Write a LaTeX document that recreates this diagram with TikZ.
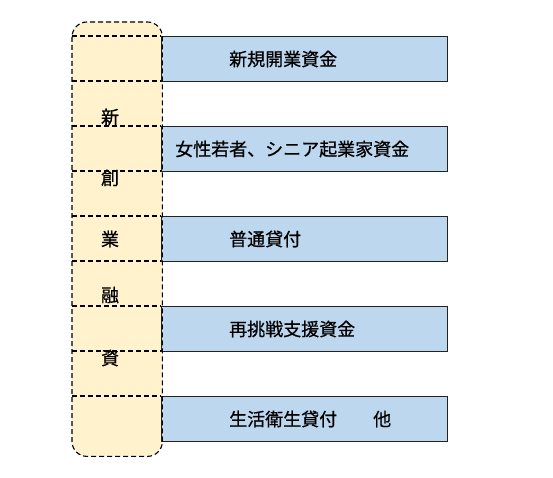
\documentclass[tikz,border=0pt]{standalone}
\usepackage{fontspec}
\setmainfont{Noto Sans CJK JP}[FakeBold=0.6]
\definecolor{boxblue}{HTML}{BDD7EE}
\definecolor{coly}{HTML}{FFF2CC}
\definecolor{edge}{HTML}{222222}
\begin{document}
\begin{tikzpicture}[x=1pt,y=-1pt,
  fundbox/.style={draw=edge,line width=0.9pt,fill=boxblue,minimum width=286pt,minimum height=45pt,inner sep=0pt,anchor=north west},
  fundtext/.style={font=\fontsize{18}{20}\selectfont,anchor=west,inner sep=0pt},
  colchar/.style={font=\fontsize{18}{20}\selectfont,inner sep=0pt},
  dashline/.style={draw=black,line width=1.1pt,dash pattern=on 5pt off 3pt}]
\useasboundingbox (0,0) rectangle (553,478);
% column
\node[draw=none,fill=coly,rounded corners=15pt,minimum width=90pt,minimum height=434pt,anchor=north west,inner sep=0pt] (col) at (72,22) {};
% boxes
\node[fundbox] (b1) at (161,36) {};
\node[fundbox] (b2) at (161,126) {};
\node[fundbox] (b3) at (161,216) {};
\node[fundbox] (b4) at (161,306) {};
\node[fundbox] (b5) at (161,396) {};
\node[fundtext] (t1) at (229,59) {新規開業資金};
\node[fundtext] (t2) at (175,149) {女性若者、シニア起業家資金};
\node[fundtext] (t3) at (229,239) {普通貸付};
\node[fundtext] (t4) at (229,329) {再挑戦支援資金};
\node[fundtext] (t5) at (229,419) {生活衛生貸付\hspace{2em}他};
% dashed outline and separators
\draw[dashline,rounded corners=15pt] (col.north west) rectangle (col.south east);
\foreach \yy in {36,81,126,171,216,261,306,351,396}
  \draw[dashline] (72,\yy) -- (161,\yy);
% column characters
\node[colchar] (c1) at (110,117) {新};
\node[colchar] (c2) at (110,178) {創};
\node[colchar] (c3) at (110,239) {業};
\node[colchar] (c4) at (110,295) {融};
\node[colchar] (c5) at (110,358) {資};
\end{tikzpicture}
\end{document}
